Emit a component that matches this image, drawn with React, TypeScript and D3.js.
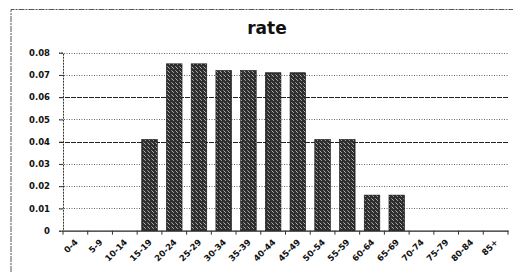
import { useRef, useEffect } from "react";
import * as d3 from "d3";

const AGE_GROUPS = ["0-4", "5-9", "10-14", "15-19", "20-24", "25-29", "30-34", "35-39", "40-44", "45-49", "50-54", "55-59", "60-64", "65-69", "70-74", "75-79", "80-84", "85+"];
const RATES = [0, 0, 0, 0.041, 0.075, 0.075, 0.072, 0.072, 0.071, 0.071, 0.041, 0.041, 0.016, 0.016, 0, 0, 0, 0];
const Y_TICKS = [0, 0.01, 0.02, 0.03, 0.04, 0.05, 0.06, 0.07, 0.08];

const W = 513;
const H = 272;

export default function App() {
  const svgRef = useRef<SVGSVGElement>(null);

  useEffect(() => {
    const svg = d3.select(svgRef.current!);
    svg.selectAll("*").remove();

    const left = 63, right = 508, top = 52.7, bottom = 230.7;

    const x = d3.scaleBand<string>().domain(AGE_GROUPS).range([left, right]).paddingInner(0.37).paddingOuter(0.185);
    const xb = d3.scaleBand<string>().domain(AGE_GROUPS).range([left, right]);
    const y = d3.scaleLinear().domain([0, 0.08]).range([bottom, top]);

    // 扫描件的颗粒感
    const defs = svg.append("defs");
    const pat = defs.append("pattern").attr("id", "grain").attr("width", 4).attr("height", 4).attr("patternUnits", "userSpaceOnUse");
    pat.append("rect").attr("width", 4).attr("height", 4).attr("fill", "#2e2e2e");
    pat.append("rect").attr("x", 1).attr("y", 0).attr("width", 1).attr("height", 1).attr("fill", "#a0a0a0");
    pat.append("rect").attr("x", 3).attr("y", 2).attr("width", 1).attr("height", 1).attr("fill", "#808080");
    pat.append("rect").attr("x", 0).attr("y", 3).attr("width", 1).attr("height", 1).attr("fill", "#b0b0b0");

    // 外框
    svg.append("path")
      .attr("d", `M11,${H} L11,9.5 L${W},9.5`)
      .attr("fill", "none").attr("stroke", "#555").attr("stroke-width", 1)
      .attr("stroke-dasharray", "6,1,2,1");

    svg.append("text")
      .attr("x", 267).attr("y", 34).attr("text-anchor", "middle")
      .attr("font-family", "DejaVu Sans, Verdana, sans-serif").attr("font-weight", "bold")
      .attr("font-size", 17).attr("fill", "#111").text("rate");

    // 网格线
    svg.append("g").selectAll("line")
      .data(Y_TICKS.filter((t) => t > 0))
      .join("line")
      .attr("x1", left - 4).attr("x2", right)
      .attr("y1", (d) => Math.round(y(d)) + 0.5).attr("y2", (d) => Math.round(y(d)) + 0.5)
      .attr("stroke", (d) => (Math.abs(d - 0.04) < 1e-9 || Math.abs(d - 0.06) < 1e-9 ? "#222" : "#666"))
      .attr("stroke-width", 1)
      .attr("stroke-dasharray", (d) => (Math.abs(d - 0.04) < 1e-9 || Math.abs(d - 0.06) < 1e-9 ? "5,1" : "1,1.5"));

    // y 轴
    const yAxis = svg.append("g").attr("transform", `translate(${left},0)`)
      .call(d3.axisLeft(y).tickValues(Y_TICKS).tickSize(4).tickFormat((d) => (+d === 0 ? "0" : d3.format(".2f")(+d))));
    yAxis.select(".domain").attr("stroke", "#333").attr("stroke-dasharray", "2,1");
    yAxis.selectAll(".tick line").attr("stroke", "#333");
    yAxis.selectAll("text")
      .attr("x", -13)
      .attr("font-family", "DejaVu Sans, Verdana, sans-serif").attr("font-weight", "bold")
      .attr("font-size", 8.5).attr("fill", "#111");

    // 柱子
    svg.append("g").selectAll("rect")
      .data(AGE_GROUPS.map((g, i) => ({ g, v: RATES[i] })).filter((d) => d.v > 0))
      .join("rect")
      .attr("x", (d) => x(d.g)!)
      .attr("width", x.bandwidth())
      .attr("y", (d) => y(d.v))
      .attr("height", (d) => bottom - y(d.v))
      .attr("fill", "url(#grain)")
      .attr("stroke", "#111").attr("stroke-width", 0.6);

    // x 轴
    const xAxis = svg.append("g").attr("transform", `translate(0,${bottom})`)
      .call(d3.axisBottom(xb).tickSize(0).tickFormat(() => ""));
    xAxis.select(".domain").attr("stroke", "#222").attr("stroke-width", 1.3);

    svg.append("g").selectAll("line")
      .data(AGE_GROUPS.concat(["__end"]))
      .join("line")
      .attr("x1", (_d, i) => left + i * xb.bandwidth()).attr("x2", (_d, i) => left + i * xb.bandwidth())
      .attr("y1", bottom).attr("y2", bottom + 4)
      .attr("stroke", "#333");

    svg.append("g").selectAll("text")
      .data(AGE_GROUPS)
      .join("text")
      .attr("transform", (d) => `translate(${xb(d)! + xb.bandwidth() / 2 + 3},${bottom + 12}) rotate(-45)`)
      .attr("text-anchor", "end")
      .attr("font-family", "DejaVu Sans, Verdana, sans-serif").attr("font-weight", "bold")
      .attr("font-size", 8.5).attr("fill", "#111")
      .text((d) => d);
  }, []);

  return (
    <svg ref={svgRef} width={W} height={H} style={{ position: "absolute", left: 0, top: 0, background: "#fff" }} />
  );
}
